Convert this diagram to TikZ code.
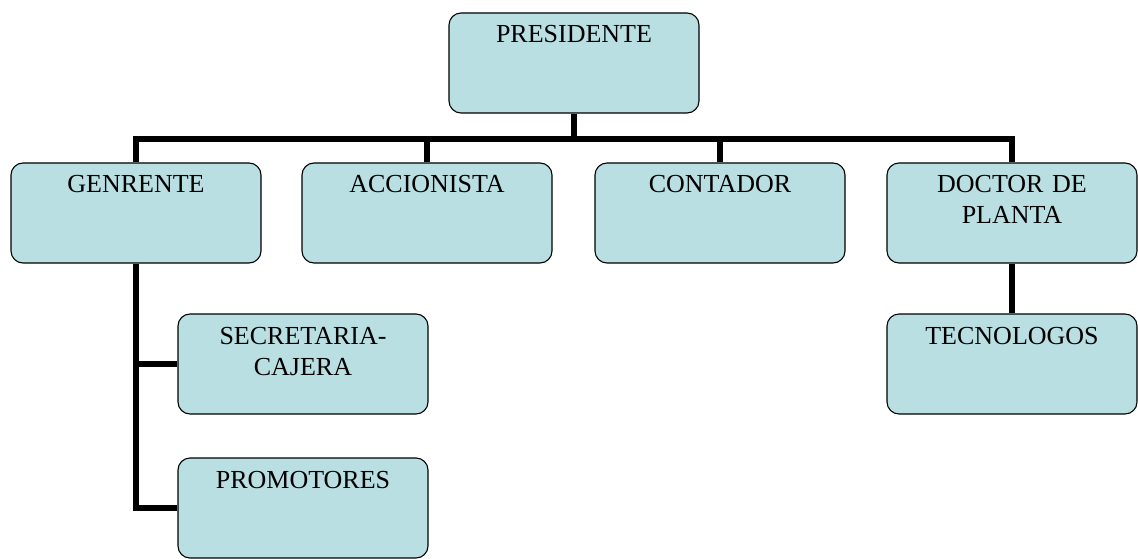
\documentclass[tikz,border=0pt]{standalone}
\usepackage{fontspec}
\setmainfont{Liberation Serif}
\usepackage{xcolor}
\usepackage{tikz}
\definecolor{cargofill}{RGB}{185,223,227}

\begin{document}
\begin{tikzpicture}[x=1pt, y=-1pt,
  cargo/.style={draw, fill=cargofill, line width=1.1pt, rounded corners=12pt,
    inner sep=0pt, text width=250pt, align=center,
    text height=30pt, text depth=70pt,
    font=\fontsize{26}{31}\selectfont},
  linea/.style={line width=5.5pt}]
\useasboundingbox (0,0) rectangle (1138,559);
\node[cargo] (pres) at (574,63) {PRESIDENTE};
\node[cargo] (gen) at (136,213) {GENRENTE};
\node[cargo] (acc) at (427,213) {ACCIONISTA};
\node[cargo] (cont) at (720,213) {CONTADOR};
\node[cargo] (doc) at (1012,213) {DOCTOR DE\\PLANTA};
\node[cargo] (sec) at (303,364) {SECRETARIA-\\CAJERA};
\node[cargo] (prom) at (303,508) {PROMOTORES};
\node[cargo] (tec) at (1012,364) {TECNOLOGOS};
\coordinate (bus) at (574,139);
\draw[linea] (pres.south) -- (bus);
\draw[linea] (gen.north) |- (bus) -| (doc.north);
\draw[linea] (acc.north) -- (acc.north |- bus);
\draw[linea] (cont.north) -- (cont.north |- bus);
\draw[linea] (gen.south) |- (prom.west);
\draw[linea] (sec.west) -- (sec.west -| gen.south);
\draw[linea] (doc.south) -- (tec.north);
\end{tikzpicture}
\end{document}
